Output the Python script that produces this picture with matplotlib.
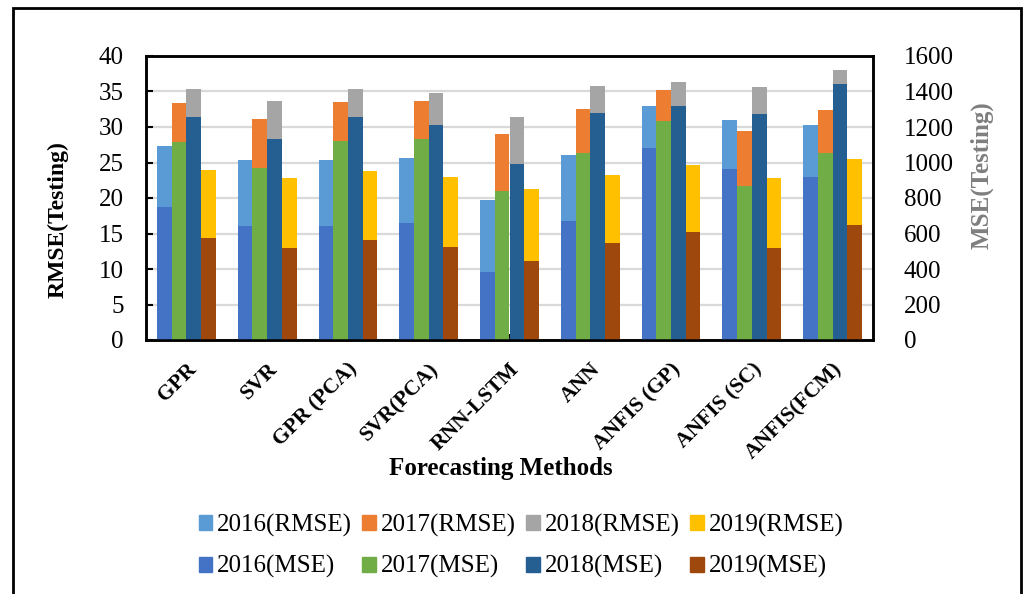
import matplotlib
matplotlib.use("Agg")
import matplotlib.pyplot as plt
from matplotlib.patches import Patch, Rectangle
import numpy as np

plt.rcParams['font.family'] = ['Liberation Serif', 'DejaVu Serif']

methods = ["GPR", "SVR", "GPR (PCA)", "SVR(PCA)", "RNN-LSTM", "ANN",
           "ANFIS (GP)", "ANFIS (SC)", "ANFIS(FCM)"]
years = ["2016", "2017", "2018", "2019"]

# testing RMSE per year (left axis)
rmse_2016 = [27.3, 25.4, 25.4, 25.6, 19.7, 26.0, 32.9, 31.0, 30.3]
rmse_2017 = [33.4, 31.1, 33.5, 33.7, 29.0, 32.5, 35.2, 29.5, 32.4]
rmse_2018 = [35.4, 33.7, 35.4, 34.8, 31.4, 35.8, 36.3, 35.7, 38.0]
rmse_2019 = [24.0, 22.8, 23.8, 23.0, 21.2, 23.3, 24.7, 22.8, 25.5]

# testing MSE per year (right axis)
mse_2016 = [748, 644, 644, 657, 385, 672, 1080, 965, 920]
mse_2017 = [1117, 967, 1121, 1132, 839, 1052, 1234, 869, 1052]
mse_2018 = [1255, 1132, 1255, 1211, 990, 1281, 1318, 1275, 1444]
mse_2019 = [576, 517, 565, 524, 447, 545, 608, 518, 650]

rmse_colors = ["#5B9BD5", "#ED7D31", "#A5A5A5", "#FFC000"]
mse_colors = ["#4472C4", "#70AD47", "#255E91", "#9E480E"]

W, H = 1026, 594
fig = plt.figure(figsize=(W / 100, H / 100), dpi=100)
ax = fig.add_axes([146 / W, 1 - 340 / H, 727 / W, 284 / H])
ax2 = ax.twinx()

x = np.arange(len(methods))
bw = 0.182
rmse_all = [rmse_2016, rmse_2017, rmse_2018, rmse_2019]
mse_all = [mse_2016, mse_2017, mse_2018, mse_2019]
for i in range(4):
    off = (i - 1.5) * bw
    ax.bar(x + off, rmse_all[i], bw, color=rmse_colors[i], zorder=2)
    ax2.bar(x + off, mse_all[i], bw, color=mse_colors[i], zorder=2)

ax.set_xlim(-0.5, len(methods) - 0.5)
ax.set_ylim(0, 40)
ax.set_yticks(np.arange(0, 41, 5))
ax2.set_ylim(0, 1600)
ax2.set_yticks(np.arange(0, 1601, 200))

ax.set_axisbelow(True)
ax.yaxis.grid(True, color="#d9d9d9", lw=1.6)
ax.set_xticks(x)
ax.set_xticklabels(methods, rotation=45, ha="right", va="top",
                   rotation_mode="anchor", fontsize=15.5, fontweight="bold")
ax.tick_params(axis="x", direction="in", length=4, width=1.5, pad=14)
ax.tick_params(axis="y", direction="in", length=5, width=1.5, labelsize=18, pad=16)
ax2.tick_params(axis="y", length=0, labelsize=18, pad=22)

for a in (ax, ax2):
    for s in a.spines.values():
        s.set_linewidth(1.8)
        s.set_color("black")

fig.text(58 / W, 1 - 220 / H, "RMSE(Testing)", rotation=90, ha="center",
         va="center", fontsize=17, fontweight="bold")
fig.text(982 / W, 1 - 175 / H, "MSE(Testing)", rotation=90, ha="center",
         va="center", fontsize=18, fontweight="bold", color="#7F7F7F")
fig.text(501 / W, 1 - 468 / H, "Forecasting Methods", ha="center",
         va="center", fontsize=18, fontweight="bold")

# legend laid out column by column: RMSE on the top row, MSE below
handles = []
for i, y in enumerate(years):
    handles.append(Patch(color=rmse_colors[i], label=f"{y}(RMSE)"))
    handles.append(Patch(color=mse_colors[i], label=f"{y}(MSE)"))
fig.legend(handles=handles, ncol=4, loc="center",
           bbox_to_anchor=(521 / W, 1 - 546 / H), frameon=False,
           fontsize=18, handlelength=0.55, handleheight=0.55,
           handletextpad=0.2, columnspacing=0.4, labelspacing=0.75)

fig.add_artist(Rectangle((13 / W, -0.1), 1008 / W, 1.1 - 8 / H,
                         transform=fig.transFigure, fill=False,
                         lw=2, color="black"))

fig.savefig("out.png", dpi=100)
